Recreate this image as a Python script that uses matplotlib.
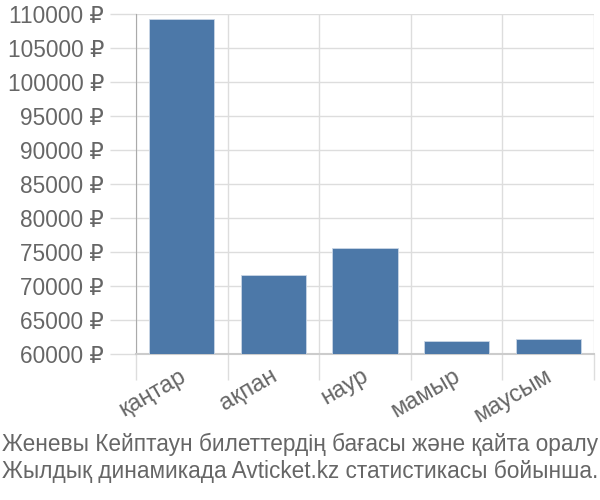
import matplotlib
matplotlib.use("Agg")
import matplotlib.pyplot as plt
from matplotlib.ticker import FixedLocator, FuncFormatter

plt.rcParams['font.family'] = ['Liberation Sans', 'DejaVu Sans']

categories = ["қаңтар", "ақпан", "наур", "мамыр", "маусым"]
prices = [109200, 71600, 75600, 61900, 62250]
yticks = list(range(60000, 110001, 5000))
caption = ["Женевы Кейптаун билеттердің бағасы және қайта оралу",
           "Жылдық динамикада Avticket.kz статистикасы бойынша."]

text_color = "#666666"
grid_color = "#dddddd"

fig = plt.figure(figsize=(6, 5), dpi=100)
ax = fig.add_axes([136/600, 1-354/500, (594-136)/600, (354-14)/500])

x = list(range(len(categories)))
ax.bar(x, [p - 60000 for p in prices], bottom=60000, width=0.71,
       color="#4c78a8", edgecolor="#c9d6e6", linewidth=0.6, zorder=3)

ax.set_xlim(-0.5, len(categories) - 0.5)
ax.set_ylim(60000, 110000)

ax.yaxis.set_major_locator(FixedLocator(yticks))
ax.yaxis.set_major_formatter(FuncFormatter(lambda v, p: f"{int(v)} ₽"))
ax.tick_params(axis='y', length=19, width=1, color=grid_color, labelsize=16.3,
               labelcolor=text_color, pad=4)

ax.set_xticks(x)
ax.set_xticklabels([])
ax.set_xticks([i - 0.5 for i in range(len(categories) + 1)], minor=True)
ax.tick_params(axis='x', which='major', length=0)
ax.tick_params(axis='x', which='minor', length=19, width=1, color=grid_color)
ax.xaxis.get_minor_ticks()[0].tick1line.set_color("#aaaaaa")
for i, c in enumerate(categories):
    ax.annotate(c, xy=(i, 0), xycoords=('data', 'axes fraction'),
                xytext=(-2.5, -8), textcoords='offset points',
                ha='right', va='top', rotation=30, rotation_mode='anchor',
                fontsize=17, color=text_color)

ax.grid(True, axis='y', color=grid_color, linewidth=1, zorder=0)
ax.grid(True, axis='x', which='minor', color=grid_color, linewidth=1, zorder=0)

for s in ['top', 'right']:
    ax.spines[s].set_visible(False)
ax.spines['left'].set_color("#aaaaaa")
ax.spines['left'].set_bounds(60000, 110000)
ax.spines['bottom'].set_color("#cccccc")
ax.spines['bottom'].set_linewidth(1.5)

fig.text(0.5, 1-444/500, caption[0], ha='center', va='center', fontsize=16.3, color=text_color)
fig.text(0.5, 1-471/500, caption[1], ha='center', va='center', fontsize=16.3, color=text_color)

fig.savefig("out.png", dpi=100)
